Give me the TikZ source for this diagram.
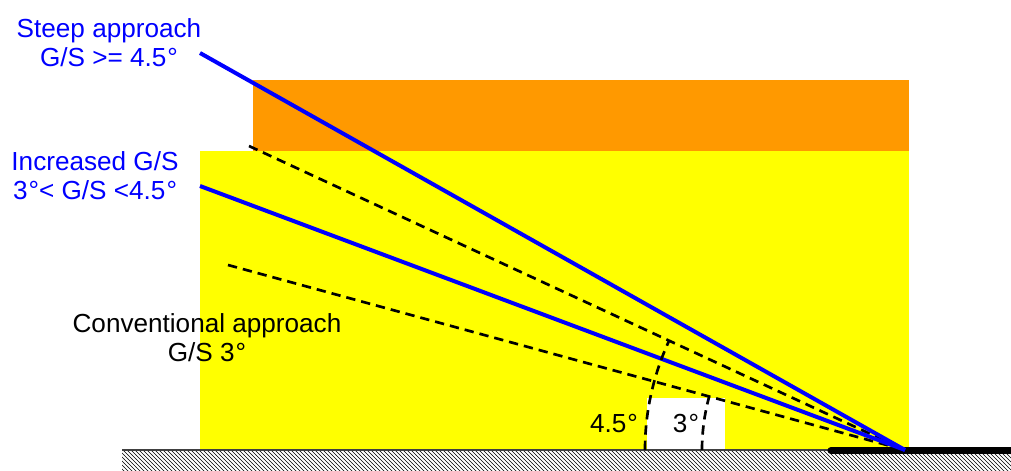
\documentclass[tikz,border=0pt]{standalone}
\usepackage{fontspec}
\setmainfont{Liberation Sans}
\usetikzlibrary{patterns}
\definecolor{gsblue}{RGB}{0,0,255}
\definecolor{gsorange}{RGB}{255,153,0}
\definecolor{gsyellow}{RGB}{255,255,0}
\newcommand{\dg}{\kern0.8pt°}
\begin{document}
\begin{tikzpicture}[x=0.75pt,y=0.75pt,
  glide/.style={draw=gsblue,line width=3pt},
  guide/.style={draw=black,line width=2pt,dash pattern=on 7pt off 4.5pt},
  lbl/.style={inner sep=0pt,align=center,font=\fontsize{19.6}{21.75}\selectfont},
  bluelbl/.style={lbl,text=gsblue}]
\useasboundingbox (0,0) rectangle (1011,471);
% coordinates
\coordinate (T) at (905,21);
\coordinate (S) at (200,418);
\coordinate (I) at (200,285);
\coordinate (D1) at (249,325);
\coordinate (D2) at (228,206);
% zones
\fill[gsyellow] (200,21) rectangle (909,320);
\fill[gsorange] (253,320) rectangle (909,391);
\fill[white] (647,21) rectangle (725,73);
% ground
\fill[pattern=north west lines] (122,0) rectangle (1011,21);
\draw[line width=1.5pt,black!75] (122,21) -- (1011,21);
\draw[line width=5.3pt,line cap=round] (831,20.5) -- (1015,20.5);
% guide lines
\draw[guide] (D1) -- (T);
\draw[guide] (D2) -- (T);
% glide slopes
\draw[glide] (S) -- (T);
\draw[glide] (I) -- (T);
% angle arcs
\draw[guide] (T) ++(180:260) arc[start angle=180,end angle=155.1,radius=260];
\draw[guide] (T) ++(180:203) arc[start angle=180,end angle=164.7,radius=203];
% labels
\node[lbl] (a45) at (614,47) {4.5\dg};
\node[lbl] (a3) at (686,47) {3\dg};
\node[bluelbl] (steep) at (109,428) {Steep approach\\G/S >= 4.5\dg};
\node[bluelbl] (incr) at (95,295) {Increased G/S\\3\dg< G/S <4.5\dg};
\node[lbl] (conv) at (207,133) {Conventional approach\\G/S 3\dg};
\end{tikzpicture}
\end{document}
